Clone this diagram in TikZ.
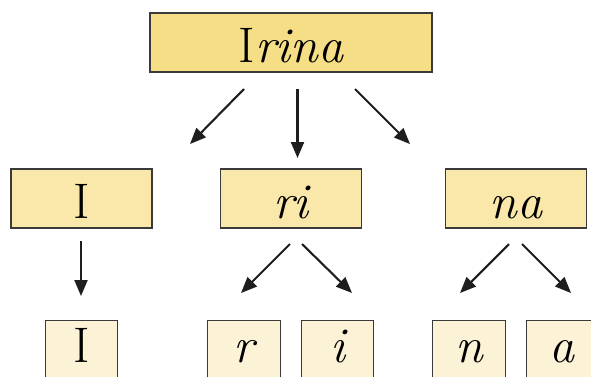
\documentclass[tikz,border=0pt]{standalone}
\usepackage{fontspec}
\usetikzlibrary{arrows.meta}
\pgfdeclarelayer{background}
\pgfsetlayers{background,main}
\definecolor{topfill}{HTML}{F5DE85}
\definecolor{midfill}{HTML}{FAE7AA}
\definecolor{lowfill}{HTML}{FCF3D6}
\definecolor{boxline}{HTML}{3A3A3A}
\definecolor{arrowcol}{HTML}{1E1E1E}
\begin{document}
\begin{tikzpicture}[x=1pt,y=-1pt,
  wordbox/.style={draw=boxline, line width=1.5pt, minimum height=59pt, inner sep=0pt,
    text height=40pt, text depth=0pt, font=\fontsize{50}{54}\selectfont\itshape},
  topbox/.style={wordbox, fill=topfill, minimum width=282pt, line width=1.8pt},
  midbox/.style={wordbox, fill=midfill, minimum width=141pt},
  lowbox/.style={wordbox, draw=none, minimum width=71pt, minimum height=48pt, text height=34pt},
  lowedge/.style={draw=boxline, line width=1.3pt},
  splitarrow/.style={draw=arrowcol, line width=2.1pt, -{Triangle[length=16pt,width=13pt]}}]
\useasboundingbox (0,0) rectangle (591,376);
\clip (0,0) rectangle (591,376);
\coordinate (bottom) at (0,382);
\coordinate (rightend) at (600,0);

\node[topbox] (irina) at (291,42.5) {\upshape I\itshape rina};

\node[midbox] (I2) at (81.5,198.5) {\upshape I};
\node[midbox] (ri2) at (291,198.5) {ri};
\node[midbox] (na2) at (516,198.5) {na};

\node[lowbox] (I3) at (81.5,345) {\upshape I};
\node[lowbox] (r3) at (244,345) {r};
\node[lowbox] (i3) at (337.5,345) {i};
\node[lowbox] (n3) at (469,345) {n};
\node[lowbox, minimum width=64pt] (a3) at (559,345) {\hspace{5pt}a};

\begin{pgfonlayer}{background}
  \fill[white] (0,0) rectangle (591,376);
  \foreach \b in {I3,r3,i3,n3} {
    \fill[lowfill] (\b.north west) rectangle (\b.north east |- bottom);
    \draw[lowedge] (\b.north west |- bottom) -- (\b.north west) -- (\b.north east) -- (\b.north east |- bottom);
  }
  \fill[lowfill] (a3.north west) rectangle (rightend |- bottom);
  \draw[lowedge] (a3.north west |- bottom) -- (a3.north west) -- (rightend |- a3.north);
\end{pgfonlayer}

\coordinate (t1s) at (244,89);   \coordinate (t1e) at (190,144);
\coordinate (t2s) at (297.5,89); \coordinate (t2e) at (297.5,158);
\coordinate (t3s) at (355,89);   \coordinate (t3e) at (410,144);
\coordinate (i1s) at (81,241);   \coordinate (i1e) at (81,296);
\coordinate (r1s) at (290,244);  \coordinate (r1e) at (241,293);
\coordinate (r2s) at (302,244);  \coordinate (r2e) at (352,293);
\coordinate (n1s) at (509,244);  \coordinate (n1e) at (460,293);
\coordinate (n2s) at (522,244);  \coordinate (n2e) at (571,293);

\draw[splitarrow] (t1s) -- (t1e);
\draw[splitarrow] (t2s) -- (t2e);
\draw[splitarrow] (t3s) -- (t3e);
\draw[splitarrow] (i1s) -- (i1e);
\draw[splitarrow] (r1s) -- (r1e);
\draw[splitarrow] (r2s) -- (r2e);
\draw[splitarrow] (n1s) -- (n1e);
\draw[splitarrow] (n2s) -- (n2e);
\end{tikzpicture}
\end{document}
